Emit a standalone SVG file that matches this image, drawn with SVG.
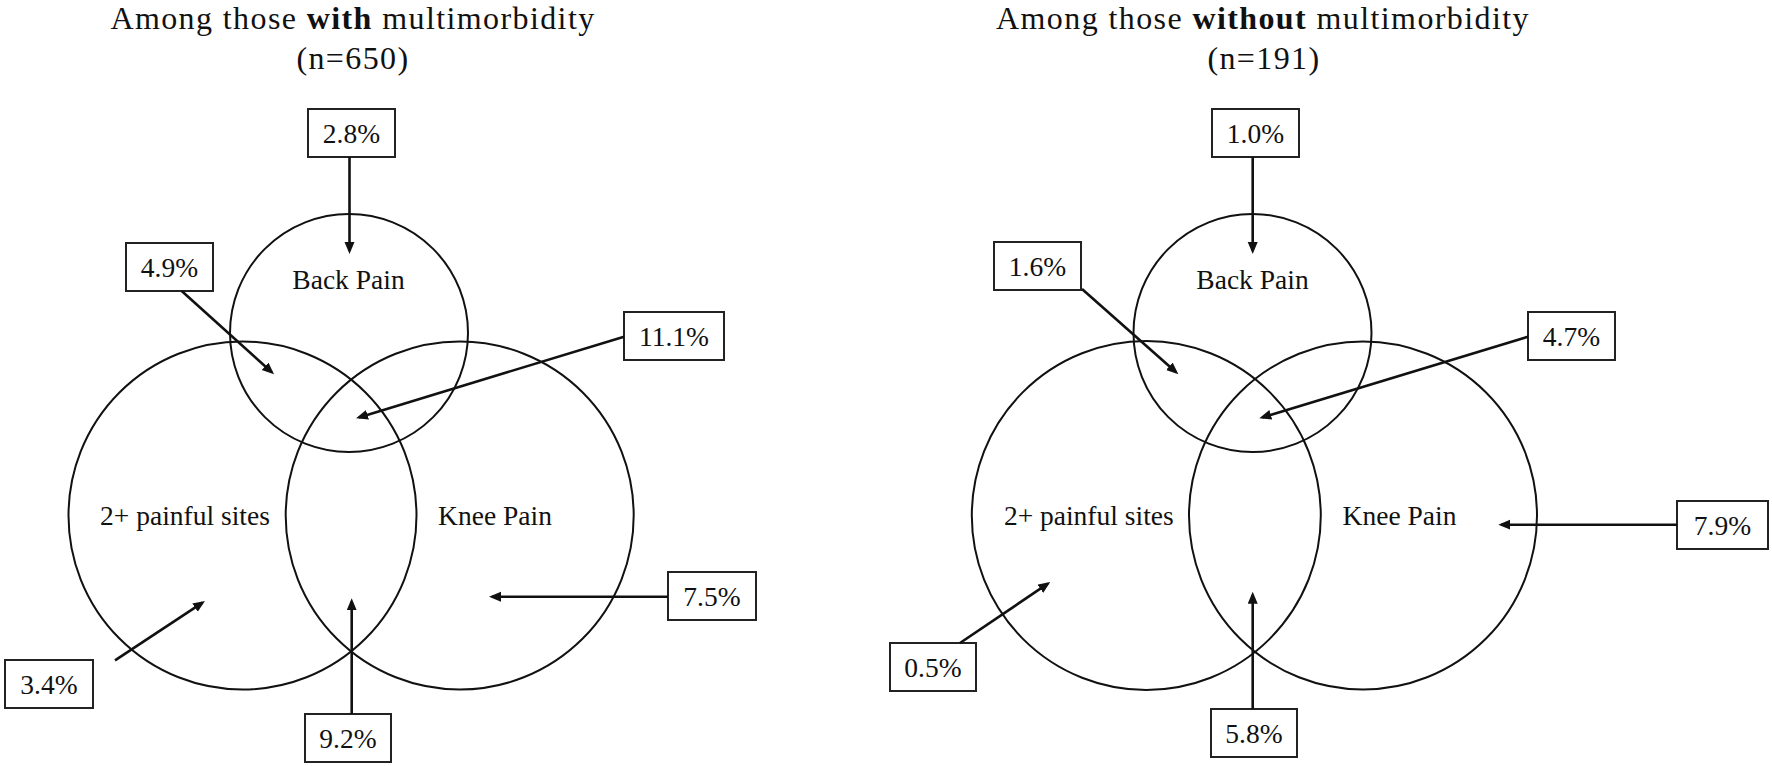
<svg xmlns="http://www.w3.org/2000/svg" width="1772" height="766" viewBox="0 0 1772 766">
<style>
.t{font-family:"Liberation Serif","Times New Roman",serif;fill:#111;}
.title{font-size:32px;letter-spacing:1.4px;text-anchor:middle;}
.lbl{font-size:27.5px;text-anchor:middle;}
.set{fill:none;stroke:#111;stroke-width:2;}
.box{fill:#fff;stroke:#222;stroke-width:2;}
.con{fill:none;stroke:#111;stroke-width:2.6;marker-end:url(#ah);}
</style>
<defs>
<marker id="ah" markerUnits="userSpaceOnUse" markerWidth="13" markerHeight="11" refX="9" refY="5" orient="auto">
<path d="M0,0 L12,5 L0,10 Z" fill="#111"/>
</marker>
</defs>
<rect width="1772" height="766" fill="#fff"/>

<g id="title-left">
<text class="t title" x="353" y="29">Among those <tspan font-weight="bold">with</tspan> multimorbidity</text>
<text class="t title" x="353" y="68.5">(n=650)</text>
</g>
<g id="title-right">
<text class="t title" x="1263" y="29">Among those <tspan font-weight="bold">without</tspan> multimorbidity</text>
<text class="t title" x="1264" y="68.5">(n=191)</text>
</g>

<!-- Left panel sets -->
<g id="L-back-pain"><circle class="set" cx="349" cy="333" r="119"/><text class="t lbl" x="348.5" y="289">Back Pain</text></g>
<g id="L-painful-sites"><circle class="set" cx="242.5" cy="515.5" r="174"/><text class="t lbl" x="185" y="525">2+ painful sites</text></g>
<g id="L-knee-pain"><circle class="set" cx="459.7" cy="515.5" r="174"/><text class="t lbl" x="495" y="525">Knee Pain</text></g>

<!-- Left panel boxes -->
<g id="L-box-2-8"><rect class="box" x="308" y="109" width="87" height="48"/><text class="t lbl" x="351.5" y="143">2.8%</text></g>
<g id="L-box-4-9"><rect class="box" x="126" y="243" width="87" height="48"/><text class="t lbl" x="169.5" y="277">4.9%</text></g>
<g id="L-box-11-1"><rect class="box" x="624" y="312" width="100" height="48"/><text class="t lbl" x="674" y="346">11.1%</text></g>
<g id="L-box-3-4"><rect class="box" x="5" y="660" width="88" height="48"/><text class="t lbl" x="49" y="694">3.4%</text></g>
<g id="L-box-9-2"><rect class="box" x="305" y="714" width="86" height="48"/><text class="t lbl" x="348" y="748">9.2%</text></g>
<g id="L-box-7-5"><rect class="box" x="668" y="572" width="88" height="48"/><text class="t lbl" x="712" y="606">7.5%</text></g>

<!-- Right panel sets -->
<g id="R-back-pain"><circle class="set" cx="1252.5" cy="333" r="119"/><text class="t lbl" x="1252.5" y="289">Back Pain</text></g>
<g id="R-painful-sites"><circle class="set" cx="1146.3" cy="515.5" r="174.5"/><text class="t lbl" x="1088.8" y="525">2+ painful sites</text></g>
<g id="R-knee-pain"><circle class="set" cx="1363" cy="515.5" r="174"/><text class="t lbl" x="1399.5" y="525">Knee Pain</text></g>

<!-- Right panel boxes -->
<g id="R-box-1-0"><rect class="box" x="1212" y="109" width="87" height="48"/><text class="t lbl" x="1255.5" y="143">1.0%</text></g>
<g id="R-box-1-6"><rect class="box" x="994" y="242" width="87" height="48"/><text class="t lbl" x="1037.5" y="276">1.6%</text></g>
<g id="R-box-4-7"><rect class="box" x="1528" y="312" width="87" height="48"/><text class="t lbl" x="1571.5" y="346">4.7%</text></g>
<g id="R-box-0-5"><rect class="box" x="890" y="643" width="86" height="48"/><text class="t lbl" x="933" y="677">0.5%</text></g>
<g id="R-box-5-8"><rect class="box" x="1211" y="709" width="86" height="48"/><text class="t lbl" x="1254" y="743">5.8%</text></g>
<g id="R-box-7-9"><rect class="box" x="1677" y="501" width="91" height="48"/><text class="t lbl" x="1722.5" y="535">7.9%</text></g>

<g id="connectors">
<line class="con" x1="349.5" y1="157" x2="349.5" y2="251"/>
<line class="con" x1="181.7" y1="291" x2="271.8" y2="372.3"/>
<line class="con" x1="624" y1="336.7" x2="358.9" y2="417.4"/>
<line class="con" x1="115" y1="660.3" x2="202.5" y2="602.6"/>
<line class="con" x1="351.7" y1="714" x2="351.7" y2="601.3"/>
<line class="con" x1="668" y1="596.7" x2="492" y2="596.7"/>

<line class="con" x1="1252.7" y1="157" x2="1252.7" y2="251"/>
<line class="con" x1="1082" y1="289" x2="1176.1" y2="372.3"/>
<line class="con" x1="1528" y1="336.7" x2="1262.2" y2="417.4"/>
<line class="con" x1="960" y1="643" x2="1047.8" y2="583.7"/>
<line class="con" x1="1252.7" y1="709" x2="1252.7" y2="594.7"/>
<line class="con" x1="1677" y1="524.7" x2="1501.3" y2="524.7"/>
</g>
</svg>
